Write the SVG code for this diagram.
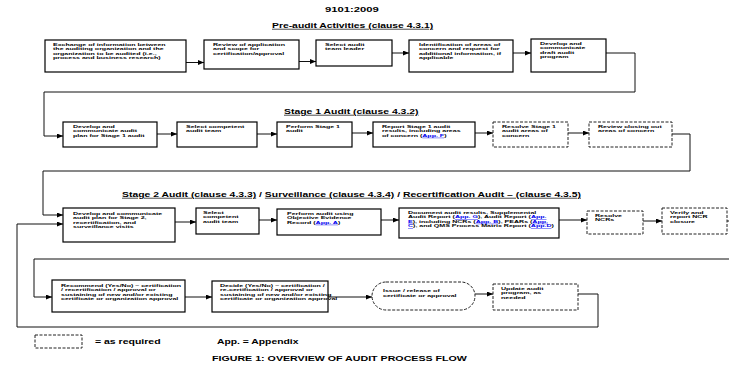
<svg xmlns="http://www.w3.org/2000/svg" width="729" height="365" viewBox="0 0 729 365">
  <style>
    .box{fill:#fff;stroke:#000;stroke-width:1.2}
    .dash{fill:#fff;stroke:#222;stroke-width:1;stroke-dasharray:3 1.5}
    .ln{fill:none;stroke:#111;stroke-width:1}
    .arr{marker-end:url(#ah)}
    .t{font-family:"Liberation Sans",Arial,Helvetica,sans-serif;font-weight:bold;font-size:4.3px;fill:#000}
    .h{font-size:7px}
    .u{text-decoration:underline}
    .lk{fill:#0000ee;text-decoration:underline}
  </style>
  <defs>
    <marker id="ah" markerUnits="userSpaceOnUse" markerWidth="6" markerHeight="5" refX="6" refY="2.5" orient="auto">
      <path d="M0,0 L6,2.5 L0,5 z" fill="#000"/>
    </marker>
  </defs>
  <rect width="729" height="365" fill="#fff"/>

  <!-- headings -->
  <g id="headings">
    <text class="t h" transform="translate(325,12) scale(1.5,1)" style="font-size:7.5px">9101:2009</text>
    <text class="t h u" transform="translate(272,28) scale(1.48,1)">Pre-audit Activities (clause 4.3.1)</text>
    <text class="t h u" transform="translate(284,114) scale(1.49,1)">Stage 1 Audit (clause 4.3.2)</text>
    <text class="t h" transform="translate(122,197) scale(1.485,1)"><tspan class="u">Stage 2 Audit (clause 4.3.3)</tspan> / <tspan class="u">Surveillance (clause 4.3.4)</tspan> / <tspan class="u">Recertification Audit – (clause 4.3.5)</tspan></text>
  </g>

  <!-- connectors -->
  <g id="connectors">
    <path class="ln arr" d="M186,62.5 H204"/>
    <path class="ln arr" d="M299,61.5 H316"/>
    <path class="ln arr" d="M392,53 H409"/>
    <path class="ln arr" d="M513,53 H531"/>
    <path class="ln arr" d="M606,53 H635 V92 H44 V136 H63"/>

    <path class="ln arr" d="M157,134 H177"/>
    <path class="ln arr" d="M257,134 H277"/>
    <path class="ln arr" d="M352,133 H373"/>
    <path class="ln arr" d="M475,133 H493"/>
    <path class="ln arr" d="M568,133 H589"/>
    <path class="ln arr" d="M672,134 H690 V171 H43 V215 H63"/>

    <path class="ln arr" d="M175,222 H196"/>
    <path class="ln arr" d="M259,220 H277"/>
    <path class="ln arr" d="M381,220 H399"/>
    <path class="ln arr" d="M559,220 H587"/>
    <path class="ln arr" d="M643,221 H662"/>
    <path class="ln arr" d="M727,221 H740 V259 H34 V297 H52"/>

    <path class="ln arr" d="M185,297 H212"/>
    <path class="ln arr" d="M328,297 H372"/>
    <path class="ln arr" d="M475,294 H493"/>
    <path class="ln arr" d="M578,294 H598 V327 H17 V224 H63"/>
  </g>

  <!-- pre-audit activities -->
  <g id="exchange-info">
    <rect class="box" x="45" y="40" width="141" height="32"/>
    <text class="t" transform="translate(53,46) scale(1.64,1)"><tspan x="0">Exchange of information between</tspan><tspan x="0" dy="4.5">the auditing organization and the</tspan><tspan x="0" dy="4.5">organization to be audited (i.e.,</tspan><tspan x="0" dy="4.5">process and business research)</tspan></text>
  </g>
  <g id="review-application">
    <rect class="box" x="204" y="40" width="95" height="29"/>
    <text class="t" transform="translate(213,46) scale(1.64,1)"><tspan x="0">Review of application</tspan><tspan x="0" dy="4.5">and scope for</tspan><tspan x="0" dy="4.5">certification/approval</tspan></text>
  </g>
  <g id="select-leader">
    <rect class="box" x="316" y="40" width="76" height="26"/>
    <text class="t" transform="translate(325,46) scale(1.64,1)"><tspan x="0">Select audit</tspan><tspan x="0" dy="4.5">team leader</tspan></text>
  </g>
  <g id="identify-concerns">
    <rect class="box" x="409" y="40" width="104" height="32"/>
    <text class="t" transform="translate(419,46) scale(1.64,1)"><tspan x="0">Identification of areas of</tspan><tspan x="0" dy="4.5">concern and request for</tspan><tspan x="0" dy="4.5">additional information, if</tspan><tspan x="0" dy="4.5">applicable</tspan></text>
  </g>
  <g id="draft-program">
    <rect class="box" x="531" y="39" width="75" height="33"/>
    <text class="t" transform="translate(540,45) scale(1.64,1)"><tspan x="0">Develop and</tspan><tspan x="0" dy="4.5">communicate</tspan><tspan x="0" dy="4.5">draft audit</tspan><tspan x="0" dy="4.5">program</tspan></text>
  </g>

  <!-- stage 1 audit -->
  <g id="stage1-plan">
    <rect class="box" x="63" y="122" width="94" height="25"/>
    <text class="t" transform="translate(73,128) scale(1.64,1)"><tspan x="0">Develop and</tspan><tspan x="0" dy="4.5">communicate audit</tspan><tspan x="0" dy="4.5">plan for Stage 1 audit</tspan></text>
  </g>
  <g id="stage1-team">
    <rect class="box" x="177" y="122" width="80" height="25"/>
    <text class="t" transform="translate(186,128) scale(1.64,1)"><tspan x="0">Select competent</tspan><tspan x="0" dy="4.5">audit team</tspan></text>
  </g>
  <g id="stage1-perform">
    <rect class="box" x="277" y="122" width="75" height="25"/>
    <text class="t" transform="translate(286,128) scale(1.64,1)"><tspan x="0">Perform Stage 1</tspan><tspan x="0" dy="4.5">audit</tspan></text>
  </g>
  <g id="stage1-report">
    <rect class="box" x="373" y="122" width="102" height="25"/>
    <text class="t" transform="translate(382,128) scale(1.64,1)"><tspan x="0">Report Stage 1 audit</tspan><tspan x="0" dy="4.5">results, including areas</tspan><tspan x="0" dy="4.5">of concern (<tspan class="lk">App. F</tspan>)</tspan></text>
  </g>
  <g id="stage1-resolve">
    <rect class="dash" x="493" y="122" width="75" height="25"/>
    <text class="t" transform="translate(502,128) scale(1.64,1)"><tspan x="0">Resolve Stage 1</tspan><tspan x="0" dy="4.5">audit areas of</tspan><tspan x="0" dy="4.5">concern</tspan></text>
  </g>
  <g id="stage1-review">
    <rect class="dash" x="589" y="122" width="83" height="25"/>
    <text class="t" transform="translate(598,128) scale(1.64,1)"><tspan x="0">Review closing out</tspan><tspan x="0" dy="4.5">areas of concern</tspan></text>
  </g>

  <!-- stage 2 / surveillance / recertification -->
  <g id="stage2-plan">
    <rect class="box" x="63" y="208" width="112" height="34"/>
    <text class="t" transform="translate(73,215) scale(1.64,1)"><tspan x="0">Develop and communicate</tspan><tspan x="0" dy="4.5">audit plan for Stage 2,</tspan><tspan x="0" dy="4.5">recertification, and</tspan><tspan x="0" dy="4.5">surveillance visits</tspan></text>
  </g>
  <g id="stage2-team">
    <rect class="box" x="196" y="208" width="63" height="26"/>
    <text class="t" transform="translate(203,214) scale(1.64,1)"><tspan x="0">Select</tspan><tspan x="0" dy="4.5">competent</tspan><tspan x="0" dy="4.5">audit team</tspan></text>
  </g>
  <g id="stage2-perform">
    <rect class="box" x="277" y="209" width="104" height="26"/>
    <text class="t" transform="translate(287,215) scale(1.64,1)"><tspan x="0">Perform audit using</tspan><tspan x="0" dy="4.5">Objective Evidence</tspan><tspan x="0" dy="4.5">Record (<tspan class="lk">App. A</tspan>)</tspan></text>
  </g>
  <g id="stage2-document">
    <rect class="box" x="399" y="208" width="160" height="30"/>
    <text class="t" transform="translate(408,214) scale(1.64,1)"><tspan x="0">Document audit results, Supplemental</tspan><tspan x="0" dy="4.5">Audit Report (<tspan class="lk">App. G</tspan>), Audit Report (<tspan class="lk">App.</tspan></tspan><tspan x="0" dy="4.5"><tspan class="lk">E</tspan>), including NCRs (<tspan class="lk">App. B</tspan>), PEARs (<tspan class="lk">App.</tspan></tspan><tspan x="0" dy="4.5"><tspan class="lk">C</tspan>), and QMS Process Matrix Report (<tspan class="lk">App.D</tspan>)</tspan></text>
  </g>
  <g id="resolve-ncrs">
    <rect class="dash" x="587" y="211" width="56" height="23"/>
    <text class="t" transform="translate(595,217) scale(1.64,1)"><tspan x="0">Resolve</tspan><tspan x="0" dy="4.5">NCRs</tspan></text>
  </g>
  <g id="verify-ncr">
    <rect class="dash" x="662" y="208" width="65" height="26"/>
    <text class="t" transform="translate(670,214) scale(1.64,1)"><tspan x="0">Verify and</tspan><tspan x="0" dy="4.5">report NCR</tspan><tspan x="0" dy="4.5">closure</tspan></text>
  </g>

  <!-- decision and release -->
  <g id="recommend">
    <rect class="box" x="52" y="280" width="133" height="32"/>
    <text class="t" transform="translate(61,287) scale(1.64,1)"><tspan x="0">Recommend (Yes/No) – certification</tspan><tspan x="0" dy="4.5">/ recertification / approval or</tspan><tspan x="0" dy="4.5">sustaining of new and/or existing</tspan><tspan x="0" dy="4.5">certificate or organization approval</tspan></text>
  </g>
  <g id="decide">
    <rect class="box" x="212" y="281" width="116" height="31"/>
    <text class="t" transform="translate(220,287) scale(1.64,1)"><tspan x="0">Decide (Yes/No) – certification /</tspan><tspan x="0" dy="4.5">re-certification / approval or</tspan><tspan x="0" dy="4.5">sustaining of new and/or existing</tspan><tspan x="0" dy="4.5">certificate or organization approval</tspan></text>
  </g>
  <g id="issue-release">
    <rect class="dash" x="372" y="282" width="103" height="28" rx="14" ry="14"/>
    <text class="t" transform="translate(383,292) scale(1.64,1)"><tspan x="0">Issue / release of</tspan><tspan x="0" dy="4.8">certificate or approval</tspan></text>
  </g>
  <g id="update-program">
    <rect class="dash" x="493" y="284" width="85" height="26"/>
    <text class="t" transform="translate(501,290) scale(1.64,1)"><tspan x="0">Update audit</tspan><tspan x="0" dy="4.5">program, as</tspan><tspan x="0" dy="4.5">needed</tspan></text>
  </g>

  <!-- legend and caption -->
  <g id="legend">
    <rect class="dash" x="35" y="335" width="47" height="13"/>
    <text class="t" transform="translate(95,343.5) scale(1.5,1)" style="font-size:7px">= as required</text>
    <text class="t" transform="translate(217,343.5) scale(1.5,1)" style="font-size:6.9px">App. = Appendix</text>
    <text class="t" transform="translate(212,361) scale(1.5,1)" style="font-size:7.1px">FIGURE 1: OVERVIEW OF AUDIT PROCESS FLOW</text>
  </g>
</svg>
